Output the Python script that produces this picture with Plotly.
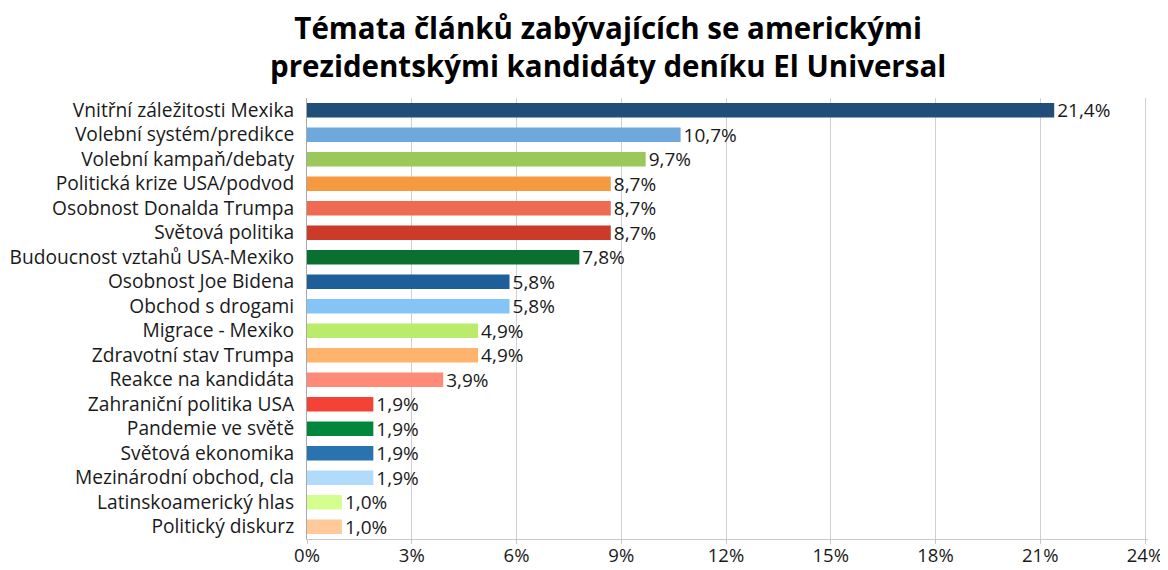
import plotly.graph_objects as go

# Data (share of articles, %)
categories = [
    "Vnitřní záležitosti Mexika",
    "Volební systém/predikce",
    "Volební kampaň/debaty",
    "Politická krize USA/podvod",
    "Osobnost Donalda Trumpa",
    "Světová politika",
    "Budoucnost vztahů USA-Mexiko",
    "Osobnost Joe Bidena",
    "Obchod s drogami",
    "Migrace - Mexiko",
    "Zdravotní stav Trumpa",
    "Reakce na kandidáta",
    "Zahraniční politika USA",
    "Pandemie ve světě",
    "Světová ekonomika",
    "Mezinárodní obchod, cla",
    "Latinskoamerický hlas",
    "Politický diskurz",
]
values = [21.4, 10.7, 9.7, 8.7, 8.7, 8.7, 7.8, 5.8, 5.8, 4.9, 4.9, 3.9,
          1.9, 1.9, 1.9, 1.9, 1.0, 1.0]
colors = [
    "#1F4E79", "#6FA8DC", "#9BC85A", "#F59A3E", "#EE6A50", "#CC3A2A",
    "#0A7030", "#1F5F99", "#85C4F7", "#BBEB6A", "#FFB36B", "#FF8A78",
    "#F44336", "#00873C", "#2A72B0", "#B0DBFB", "#D4FF8F", "#FFC99A",
]
tick_vals = [0, 3, 6, 9, 12, 15, 18, 21, 24]
title_text = ("Témata článků zabývajících se americkými<br>"
              "prezidentskými kandidáty deníku El Universal")

labels = [f"{v:.1f}%".replace(".", ",") for v in values]

fig = go.Figure(go.Bar(
    x=values,
    y=categories,
    orientation="h",
    marker=dict(color=colors, line=dict(width=0)),
    width=0.6,
    text=labels,
    textposition="outside",
    constraintext="none",
    textfont=dict(size=19, color="#1a1a1a"),
    cliponaxis=False,
))

# the page body adds an 8px offset, so the figure is 8px smaller than the window
fig.update_layout(
    width=1160,
    height=562,
    margin=dict(l=299, r=20, t=90, b=31),
    paper_bgcolor="white",
    plot_bgcolor="white",
    font=dict(family="Open Sans", size=19, color="#1a1a1a"),
    showlegend=False,
)
fig.add_annotation(
    text=title_text,
    xref="paper", yref="paper",
    x=0.358, xanchor="center",
    y=1.21, yanchor="top",
    showarrow=False,
    font=dict(size=29.5, color="black", family="Open Sans", weight="bold"),
)
fig.update_xaxes(
    range=[0, 24.086],
    tickvals=tick_vals,
    ticktext=[f"{t}%" for t in tick_vals],
    showgrid=True, gridcolor="#D0D0D0", gridwidth=1,
    zeroline=False,
    showline=True, linecolor="#C8C8C8", linewidth=1,
    ticks="outside", ticklen=4, tickcolor="#C8C8C8",
    ticklabelstandoff=-4,
    tickfont=dict(size=18.5),
    automargin=False,
)
fig.update_yaxes(
    autorange="reversed",
    showline=True, linecolor="#A8A8A8", linewidth=1,
    showgrid=False,
    ticks="", ticklabelstandoff=8,
    tickfont=dict(size=19.2),
    automargin=False,
)

fig.write_html("out.html")
